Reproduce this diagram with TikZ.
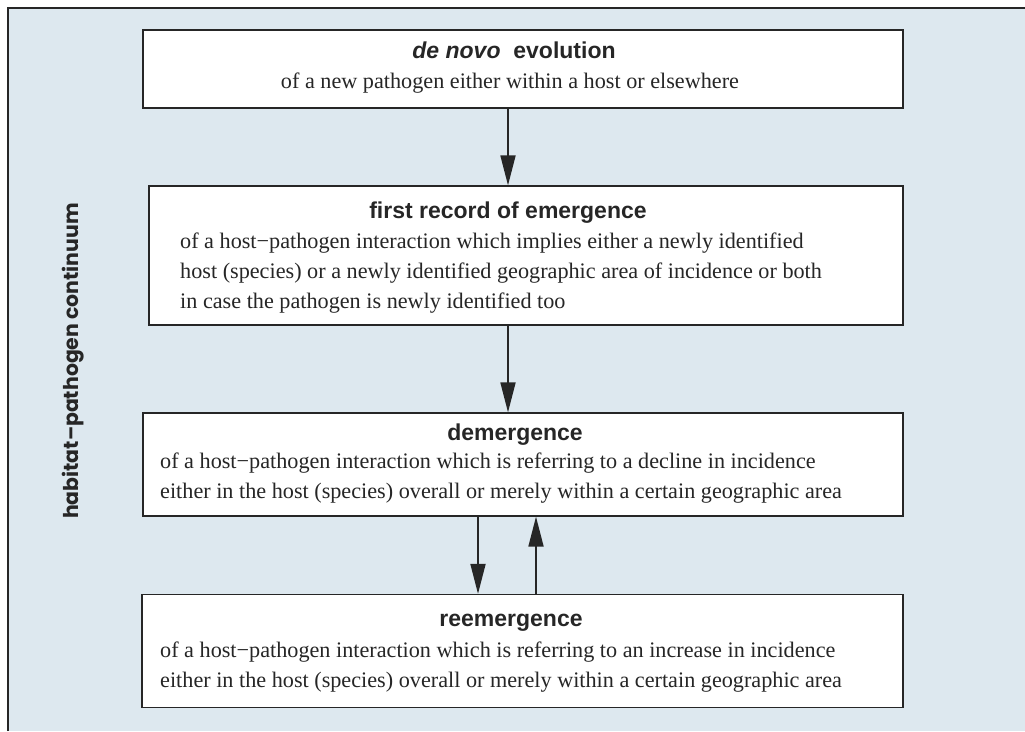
\documentclass[tikz,border=0pt]{standalone}
\usepackage{fontspec}
\setmainfont{Liberation Serif}
\newfontfamily\headfont{Liberation Sans}
\newfontfamily\labelfont{Poppins}
\usetikzlibrary{arrows.meta}
\definecolor{panel}{HTML}{DDE8EF}
\definecolor{ink}{HTML}{262626}
\begin{document}
\begin{tikzpicture}[x=1pt,y=-1pt,
  stage/.style={draw=ink, line width=1.3pt, fill=white, inner sep=0pt},
  head/.style={font=\headfont\bfseries\fontsize{23}{28}\selectfont, text=ink, inner sep=0pt},
  body/.style={font=\fontsize{22.2}{30}\selectfont, text=ink, inner sep=0pt, align=left},
  flow/.style={draw=ink, line width=1.8pt, -{Triangle[length=30pt,width=15pt]}}]

% page and panel
\useasboundingbox (0,0) rectangle (1025,731);
\fill[white] (0,0) rectangle (1025,731);
\fill[panel] (8,8) rectangle (1025,731);
\draw[ink, line width=1.2pt] (8,731) -- (8,8) -- (1025,8);

% side label
\node[font=\labelfont\bfseries\fontsize{20.4}{24}\selectfont, text=ink, rotate=90, inner sep=0pt]
  (axis) at (73,361) {habitat–pathogen continuum};

% stage boxes
\node[stage, minimum width=760pt, minimum height=78pt]  (evo)   at (523,69)    {};
\node[stage, minimum width=754pt, minimum height=139pt] (first) at (526,255.5) {};
\node[stage, minimum width=760pt, minimum height=103pt] (dem)   at (523,464.5) {};
\node[stage, minimum width=761pt, minimum height=113pt] (reem)  at (522.5,651) {};

% box texts (multi-line blocks are placed by the baseline of their last line)
\node[head, anchor=base] (evoT) at (514,58) {\itshape de novo\upshape\ \ evolution};
\node[body, anchor=base] (evoB) at (510,88) {of a new pathogen either within a host or elsewhere};

\node[head, anchor=base] (firstT) at (508,218) {first record of emergence};
\node[body, anchor=base west] (firstB) at (180,308)
  {of a host−pathogen interaction which implies either a newly identified\\
   host (species) or a newly identified geographic area of incidence or both\\
   in case the pathogen is newly identified too};

\node[head, anchor=base] (demT) at (515,440) {demergence};
\node[body, anchor=base west] (demB) at (160,498)
  {of a host−pathogen interaction which is referring to a decline in incidence\\
   either in the host (species) overall or merely within a certain geographic area};

\node[head, anchor=base] (reemT) at (511,626) {reemergence};
\node[body, anchor=base west] (reemB) at (160,687)
  {of a host−pathogen interaction which is referring to an increase in incidence\\
   either in the host (species) overall or merely within a certain geographic area};

% connectors
\draw[flow] ([xshift=-15pt]evo.south) -- ([xshift=-15pt]evo.south |- first.north);
\draw[flow] ([xshift=-18pt]first.south) -- ([xshift=-18pt]first.south |- dem.north);
\draw[flow] ([xshift=-45pt]dem.south) -- ([xshift=-45pt]dem.south |- reem.north);
\draw[flow] ([xshift=13.5pt]reem.north) -- ([xshift=13.5pt]reem.north |- dem.south);
\end{tikzpicture}
\end{document}
